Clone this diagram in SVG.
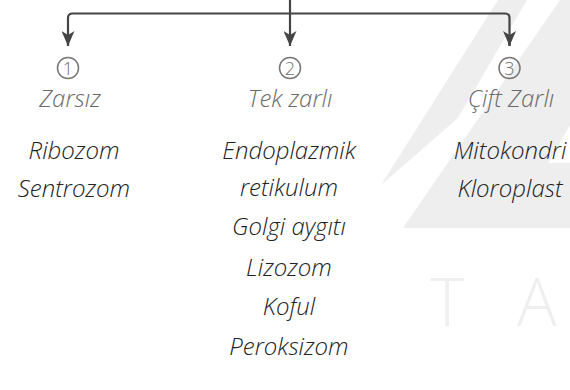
<svg xmlns="http://www.w3.org/2000/svg" width="570" height="390" viewBox="0 0 570 390">
<style>
.wm{fill:#eeeeee;stroke:none}
.wt{font-family:"Open Sans","Liberation Sans",sans-serif;font-weight:300;font-size:66px;fill:#efefef}
.ln{fill:none;stroke:#454545;stroke-width:2.2}
.num{fill:none;stroke:#777777;stroke-width:1.5}
.nt{font-family:"Open Sans","Liberation Sans",sans-serif;font-weight:300;font-size:18px;fill:#6e6e6e;text-anchor:middle}
.hd{font-family:"Open Sans","Liberation Sans",sans-serif;font-weight:300;font-style:italic;font-size:24px;fill:#6a6a6a;text-anchor:middle}
.it{font-family:"Open Sans","Liberation Sans",sans-serif;font-weight:300;font-style:italic;font-size:24px;fill:#222222;text-anchor:middle}
</style>
<defs>
<marker id="ah" markerWidth="15" markerHeight="13" refX="15" refY="6.5" orient="auto" markerUnits="userSpaceOnUse" viewBox="0 0 15 13">
<path d="M0,0 L15,6.5 L0,13 L4,6.5 Z" fill="#454545"/>
</marker>
</defs>
<g id="watermark">
<polygon class="wm" points="498,0 527,0 458,118 381,185"/>
<polygon class="wm" points="560,0 570,0 570,228 403,228"/>
<polygon points="570,125 570,163 548,163" fill="#ffffff"/>
<text class="wt" x="430" y="326">T</text>
<text class="wt" x="517" y="326">A</text>
</g>
<g id="connectors">
<path class="ln" d="M290,0 V46" marker-end="url(#ah)"/>
<path class="ln" d="M68,46 V18 Q68,13.5 72.5,13.5 H505 Q509.5,13.5 509.5,18 V46"/>
<path class="ln" d="M68,40 V46" marker-end="url(#ah)"/>
<path class="ln" d="M509.5,40 V46" marker-end="url(#ah)"/>
</g>
<g id="col1">
<circle class="num" cx="68" cy="68" r="10.5"/>
<text class="nt" x="68" y="74.5">1</text>
<text class="hd" x="70" y="107">Zarsız</text>
<text class="it" x="74" y="159">Ribozom</text>
<text class="it" x="74" y="197">Sentrozom</text>
</g>
<g id="col2">
<circle class="num" cx="290" cy="68" r="10.5"/>
<text class="nt" x="290" y="74.5">2</text>
<text class="hd" x="290" y="107">Tek zarlı</text>
<text class="it" x="289" y="159">Endoplazmik</text>
<text class="it" x="289" y="196">retikulum</text>
<text class="it" x="289" y="235">Golgi aygıtı</text>
<text class="it" x="289" y="276">Lizozom</text>
<text class="it" x="289" y="315">Koful</text>
<text class="it" x="289" y="355">Peroksizom</text>
</g>
<g id="col3">
<circle class="num" cx="509.5" cy="68" r="10.5"/>
<text class="nt" x="509.5" y="74.5">3</text>
<text class="hd" x="511" y="107">Çift Zarlı</text>
<text class="it" x="510" y="159">Mitokondri</text>
<text class="it" x="510" y="197">Kloroplast</text>
</g>
</svg>
